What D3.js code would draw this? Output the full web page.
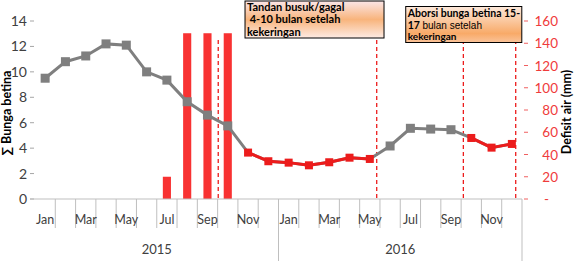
<!DOCTYPE html>
<html>
<head>
<meta charset="utf-8">
<script src="https://cdn.jsdelivr.net/npm/d3@7"></script>
<style>
  body { margin: 0; background: #fff; }
  text { font-family: Lato, "Liberation Sans", sans-serif; }
</style>
</head>
<body>
<div id="chart"></div>
<script>
// Female flowers vs water deficit, 2015-2016

const width = 580,
    height = 263,
    margin = ({ top: 21, right: 58, bottom: 64, left: 35 });

// data
const months = ["Jan", "Feb", "Mar", "Apr", "May", "Jun", "Jul", "Aug", "Sep", "Oct", "Nov", "Dec",
                "Jan", "Feb", "Mar", "Apr", "May", "Jun", "Jul", "Aug", "Sep", "Oct", "Nov", "Dec"];
const years = ["2015", "2016"];
const flowers = [9.5, 10.8, 11.25, 12.2, 12.1, 10.0, 9.35, 7.65, 6.6, 5.75, 3.65, 2.97,
                 2.86, 2.65, 2.89, 3.25, 3.15, 4.17, 5.56, 5.5, 5.45, 4.8, 4.04, 4.33];
// months whose flower point is highlighted red
const redPoints = [10, 11, 12, 13, 14, 15, 16, 21, 22, 23];
const deficit = [0, 0, 0, 0, 0, 0, 20, 149, 149, 149, 0, 0,
                 0, 0, 0, 0, 0, 0, 0, 0, 0, 0, 0, 0];
const leftTicks = [0, 2, 4, 6, 8, 10, 12, 14];
const rightTicks = [0, 20, 40, 60, 80, 100, 120, 140, 160];
// dashed markers, in month units from Jan 2015
const dashedAt = [9.03, 16.84, 21.11, 23.69];

const svg = d3.select("#chart")
  .append("svg")
  .attr("width", width)
  .attr("height", height);

const idx = d3.range(months.length);

const x = d3.scaleBand()
  .domain(idx)
  .range([margin.left, width - margin.right]);

const xm = d3.scaleLinear()
  .domain([0, months.length])
  .range([margin.left, width - margin.right]);

const yL = d3.scaleLinear()
  .domain([0, 14])
  .range([height - margin.bottom, margin.top]);

const yR = d3.scaleLinear()
  .domain([0, 160])
  .range([height - margin.bottom, margin.top]);

const base = height - margin.bottom;
const red = "#ec1c1c";

// gradients for the notes
const defs = svg.append("defs");
const g1 = defs.append("linearGradient").attr("id", "note1")
  .attr("x1", 0).attr("y1", 0).attr("x2", 0).attr("y2", 1);
g1.append("stop").attr("offset", "0%").attr("stop-color", "#fbe6e8");
g1.append("stop").attr("offset", "50%").attr("stop-color", "#f8b47c");
g1.append("stop").attr("offset", "100%").attr("stop-color", "#fdebe4");
const g2 = defs.append("linearGradient").attr("id", "note2")
  .attr("x1", 0).attr("y1", 0).attr("x2", 0).attr("y2", 1);
g2.append("stop").attr("offset", "0%").attr("stop-color", "#fde9dc");
g2.append("stop").attr("offset", "75%").attr("stop-color", "#f8aa68");
g2.append("stop").attr("offset", "100%").attr("stop-color", "#fac39a");

// left axis ticks
const left = svg.append("g");
left.selectAll("line")
  .data(leftTicks)
  .join("line")
  .attr("x1", margin.left - 5).attr("x2", margin.left - 1)
  .attr("y1", d => yL(d)).attr("y2", d => yL(d))
  .attr("stroke", "#a6a6a6");
left.selectAll("text")
  .data(leftTicks)
  .join("text")
  .attr("x", margin.left - 8)
  .attr("y", d => yL(d) + 5)
  .attr("text-anchor", "end")
  .attr("font-size", 14)
  .attr("fill", "#404040")
  .text(d => d);

// right axis ticks
const right = svg.append("g");
right.selectAll("line")
  .data(rightTicks)
  .join("line")
  .attr("x1", width - margin.right + 2).attr("x2", width - margin.right + 6)
  .attr("y1", d => yR(d)).attr("y2", d => yR(d))
  .attr("stroke", "#f06060");
right.selectAll("text")
  .data(rightTicks)
  .join("text")
  .attr("x", d => d === 0 ? width - margin.right + 27 : width - margin.right + 36)
  .attr("y", d => yR(d) + 5)
  .attr("text-anchor", "end")
  .attr("font-size", 13.5)
  .attr("fill", "#ef3b3b")
  .text(d => d === 0 ? "-" : d);

// axis titles
svg.append("text")
  .attr("transform", `translate(11,${(margin.top + base) / 2 + 3}) rotate(-90)`)
  .attr("text-anchor", "middle")
  .attr("font-size", 12.5)
  .attr("font-weight", "bold")
  .attr("fill", "#000")
  .text("∑ Bunga betina");

svg.append("text")
  .attr("transform", `translate(571,${(margin.top + base) / 2 + 2}) rotate(-90)`)
  .attr("text-anchor", "middle")
  .attr("font-size", 12.5)
  .attr("font-weight", "bold")
  .attr("fill", "#000")
  .text("Defisit air (mm)");

// bars (water deficit)
svg.append("g")
  .selectAll("rect")
  .data(idx.filter(i => deficit[i] > 0))
  .join("rect")
  .attr("x", i => x(i) + x.bandwidth() * 0.3)
  .attr("width", x.bandwidth() * 0.4)
  .attr("y", i => yR(deficit[i]))
  .attr("height", i => base - yR(deficit[i]))
  .attr("fill", "#f83232");

// category axis
const cat = svg.append("g");
cat.append("line")
  .attr("x1", margin.left - 5).attr("x2", width - margin.right)
  .attr("y1", base).attr("y2", base)
  .attr("stroke", "#bfbfbf");
cat.selectAll("line.tick")
  .data(d3.range(1, months.length + 1))
  .join("line")
  .attr("class", "tick")
  .attr("x1", i => xm(i)).attr("x2", i => xm(i))
  .attr("y1", base)
  .attr("y2", i => (i % 12 === 0) ? base + 62 : base + 29)
  .attr("stroke", "#bfbfbf");
cat.selectAll("text.month")
  .data(idx.filter(i => i % 2 === 0))
  .join("text")
  .attr("class", "month")
  .attr("x", i => x(i) + x.bandwidth() / 2)
  .attr("y", base + 25)
  .attr("text-anchor", "middle")
  .attr("font-size", 12.5)
  .attr("fill", "#404040")
  .text(i => months[i]);
cat.selectAll("text.year")
  .data(years)
  .join("text")
  .attr("class", "year")
  .attr("x", (d, k) => (xm(k * 12) + xm(k * 12 + 12)) / 2)
  .attr("y", base + 55)
  .attr("text-anchor", "middle")
  .attr("font-size", 13)
  .attr("fill", "#404040")
  .text(d => d);

// dashed markers
svg.append("g")
  .selectAll("line")
  .data(dashedAt)
  .join("line")
  .attr("x1", d => xm(d)).attr("x2", d => xm(d))
  .attr("y1", yL(12.5)).attr("y2", base)
  .attr("stroke", red)
  .attr("stroke-width", 1.3)
  .attr("stroke-dasharray", "4,3");

// flower line
const cx = i => x(i) + x.bandwidth() / 2;
const line = d3.line()
  .x(i => cx(i))
  .y(i => yL(flowers[i]));

svg.append("path")
  .datum(idx)
  .attr("d", line)
  .attr("fill", "none")
  .attr("stroke", "#7f7f7f")
  .attr("stroke-width", 3);

const isRed = i => redPoints.includes(i);
svg.append("g")
  .selectAll("path")
  .data(idx.slice(1).filter(i => isRed(i) && isRed(i - 1)))
  .join("path")
  .attr("d", i => line([i - 1, i]))
  .attr("fill", "none")
  .attr("stroke", red)
  .attr("stroke-width", 3);

svg.append("g")
  .selectAll("rect")
  .data(idx)
  .join("rect")
  .attr("x", i => cx(i) - (isRed(i) ? 4 : 4.5))
  .attr("y", i => yL(flowers[i]) - (isRed(i) ? 4 : 4.5))
  .attr("width", i => isRed(i) ? 8 : 9)
  .attr("height", i => isRed(i) ? 8 : 9)
  .attr("fill", i => isRed(i) ? red : "#7f7f7f");

// notes
const note1 = svg.append("g");
note1.append("rect")
  .attr("x", xm(10.35)).attr("y", 1)
  .attr("width", xm(17.2) - xm(10.35)).attr("height", 37)
  .attr("fill", "url(#note1)")
  .attr("stroke", "#000");
note1.selectAll("text")
  .data(["Tandan busuk/gagal", " 4-10 bulan setelah", "kekeringan"])
  .join("text")
  .attr("x", xm(10.35) + 2)
  .attr("y", (d, k) => 10.5 + k * 12.5)
  .attr("font-size", 11)
  .attr("font-weight", "bold")
  .attr("xml:space", "preserve")
  .attr("fill", "#000")
  .text(d => d);

const note2 = svg.append("g");
note2.append("rect")
  .attr("x", xm(18.27)).attr("y", 6.5)
  .attr("width", xm(23.99) - xm(18.27)).attr("height", 36)
  .attr("fill", "url(#note2)")
  .attr("stroke", "#000");
note2.append("text")
  .attr("x", xm(18.27) + 2).attr("y", 17)
  .attr("font-size", 10.5).attr("font-weight", "bold")
  .text("Aborsi bunga betina 15-");
const l2 = note2.append("text")
  .attr("x", xm(18.27) + 2).attr("y", 29)
  .attr("font-size", 10.5);
l2.append("tspan").attr("font-weight", "bold").text("17 ");
l2.append("tspan")
  .attr("font-family", "'Liberation Sans Narrow', 'Liberation Sans', sans-serif")
  .attr("font-size", 10)
  .text("bulan setelah");
note2.append("text")
  .attr("x", xm(18.27) + 2).attr("y", 40)
  .attr("font-size", 10)
  .attr("font-weight", "bold")
  .attr("font-family", "'Liberation Sans Narrow', 'Liberation Sans', sans-serif")
  .text("kekeringan");
</script>
</body>
</html>
